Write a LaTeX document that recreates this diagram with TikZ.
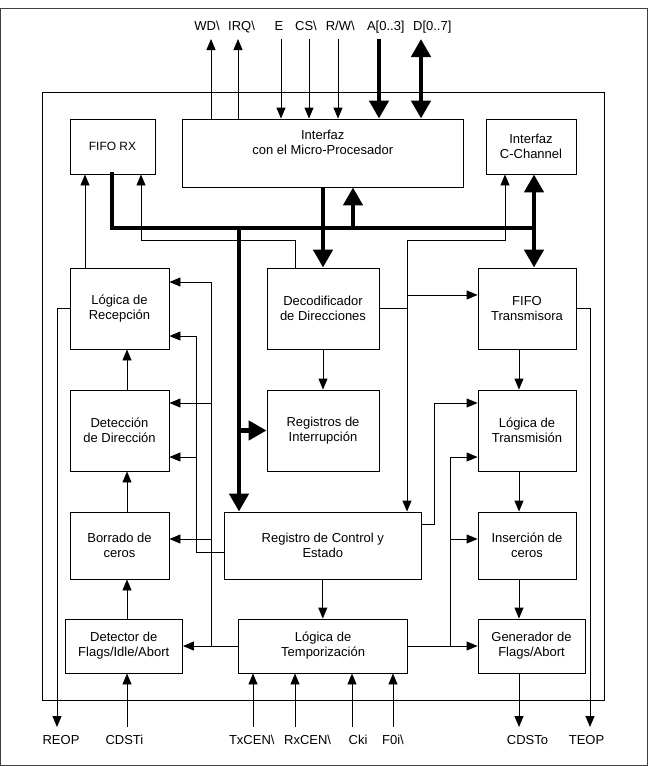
\documentclass[tikz,border=0pt]{standalone}
\usepackage{fontspec}
\setmainfont{Liberation Sans}
\usetikzlibrary{arrows.meta,positioning,calc}

\begin{document}
\begin{tikzpicture}[x=1pt,y=-1pt,>={Triangle[length=11pt,width=9pt]},
  every node/.style={font=\fontsize{13}{15}\selectfont},
  blk/.style={draw,line width=0.9pt,align=center,inner sep=0pt},
  sig/.style={anchor=base,inner sep=0pt},
  wire/.style={line width=0.9pt},
  bus/.style={line width=4.5pt,line cap=rect},
  busarrow/.style={line width=4.5pt,-{Triangle[length=18pt,width=19pt]}},
  busboth/.style={line width=4.5pt,{Triangle[length=18pt,width=19pt]}-{Triangle[length=18pt,width=19pt]}}]
\useasboundingbox (0,0) rectangle (648,766);
\draw[line width=1.1pt,black!75] (0.6,8.5) rectangle (647.4,765.4);
\draw[line width=0.9pt] (42.6,92.7) rectangle (604,700.7);

% blocks
\node[blk,minimum width=85pt,minimum height=55pt,font=\fontsize{12}{14}\selectfont] (fiforx) at (112.5,146.5) {FIFO RX};
\node[blk,minimum width=280.5pt,minimum height=68pt] (iface) at (322.75,153) {};
\node[align=center,inner sep=0pt] (ifacetxt) at ($(iface.north)+(0,23.5)$) {Interfaz\\con el Micro-Procesador};
\node[blk,minimum width=90pt,minimum height=55pt] (cchan) at (531,146.5) {Interfaz\\C-Channel};
\node[blk,minimum width=99pt,minimum height=81pt] (logrec) at (119.5,308.5) {Lógica de\\Recepción};
\node[blk,minimum width=112pt,minimum height=81pt] (decod) at (323,308.5) {Decodificador\\de Direcciones};
\node[blk,minimum width=98pt,minimum height=81pt] (fifotx) at (527,308.5) {FIFO\\Transmisora};
\node[blk,minimum width=99pt,minimum height=81pt] (detdir) at (119.5,430.5) {Detección\\de Dirección};
\node[blk,minimum width=112pt,minimum height=81pt] (regint) at (323,430.5) {Registros de\\Interrupción};
\node[blk,minimum width=98pt,minimum height=81pt] (logtx) at (527,430.5) {Lógica de\\Transmisión};
\node[blk,minimum width=99pt,minimum height=67pt] (borr) at (119.5,545.5) {Borrado de\\ceros};
\node[blk,minimum width=196.4pt,minimum height=67pt] (regctl) at (322.8,545.5) {Registro de Control y\\Estado};
\node[blk,minimum width=98pt,minimum height=67pt] (insc) at (527,545.5) {Inserción de\\ceros};
\node[blk,minimum width=117.5pt,minimum height=54pt] (detflag) at (123.75,646) {Detector de\\Flags/Idle/Abort};
\node[blk,minimum width=168.8pt,minimum height=54pt] (logtemp) at (323.1,646) {Lógica de\\Temporización};
\node[blk,minimum width=107pt,minimum height=54pt] (genflag) at (531.5,646) {Generador de\\Flags/Abort};

% pins
\coordinate (wdp) at (211,39);
\coordinate (irqp) at (238,39);
\coordinate (ep) at (281,39);
\coordinate (csp) at (309,39);
\coordinate (rwp) at (338,39);
\coordinate (ap) at (379,39);
\coordinate (dp) at (421,39);
\coordinate (reop) at (57,727);
\coordinate (cdsti) at (127,727);
\coordinate (txcen) at (253,727);
\coordinate (rxcen) at (295,727);
\coordinate (cki) at (352,727);
\coordinate (f0i) at (393,727);
\coordinate (cdsto) at (519,727);
\coordinate (teop) at (590,727);

\node[sig] (lwd) at (207,30.7) {WD\textbackslash};
\node[sig] (lirq) at (241.6,30.7) {IRQ\textbackslash};
\node[sig] (le) at (279,30.7) {E};
\node[sig] (lcs) at (306,30.7) {CS\textbackslash};
\node[sig] (lrw) at (340.3,30.7) {R/W\textbackslash};
\node[sig] (la) at (385.8,30.7) {A[0..3]};
\node[sig] (ld) at (432.3,30.7) {D[0..7]};
\node[sig] (lreop) at (61,744.6) {REOP};
\node[sig] (lcdsti) at (124.4,744.6) {CDSTi};
\node[sig] (ltxcen) at (251.8,744.6) {TxCEN\textbackslash};
\node[sig] (lrxcen) at (307.6,744.6) {RxCEN\textbackslash};
\node[sig] (lcki) at (358,744.6) {Cki};
\node[sig] (lf0i) at (393,744.6) {F0i\textbackslash};
\node[sig] (lcdsto) at (527.5,744.6) {CDSTo};
\node[sig] (lteop) at (586.5,744.6) {TEOP};

% junctions
\coordinate (busL) at (112,228);
\coordinate (busR) at (534,228);
\coordinate (busD) at (239,228);
\coordinate (busU) at (353,228);
\coordinate (retL) at (141,240);
\coordinate (retR) at (295,240);
\coordinate (rxup) at (85,250);
\coordinate (ctlT) at (407,240);
\coordinate (ctlC) at (505,240);
\coordinate (txin) at (407,295);
\coordinate (tmL) at (211,282);
\coordinate (ctL) at (196.5,336);
\coordinate (ctR) at (434.5,403);
\coordinate (tmR) at (450,457);

% microprocessor side
\draw[wire,->] (iface.north -| wdp) -- (wdp);
\draw[wire,->] (iface.north -| irqp) -- (irqp);
\draw[wire,->] (ep) -- (iface.north -| ep);
\draw[wire,->] (csp) -- (iface.north -| csp);
\draw[wire,->] (rwp) -- (iface.north -| rwp);
\draw[busarrow] (ap) -- (iface.north -| ap);
\draw[busboth] (dp) -- (iface.north -| dp);

% internal bus
\draw[bus] (fiforx.south -| busL) -- (busL) -- (busR);
\draw[busboth] (cchan.south -| busR) -- (fifotx.north -| busR);
\draw[busarrow] (busU) -- (iface.south -| busU);
\draw[busarrow] (iface.south -| decod.north) -- (decod.north);
\draw[busarrow] (busD) -- (regctl.north -| busD);
\draw[busarrow] (regint.west -| busD) -- (regint.west);

% address decoder outputs
\draw[wire,->] (decod.north -| retR) -- (retR) -- (retL) -- (fiforx.south -| retL);
\draw[wire] (decod.east) -- (decod.east -| ctlT);
\draw[wire,->] (ctlT) -- (regctl.north -| ctlT);
\draw[wire,->] (ctlT) -- (ctlC) -- (cchan.south -| ctlC);
\draw[wire,->] (txin) -- (fifotx.west |- txin);

% receive chain
\draw[wire,->] (logrec.north -| rxup) -- (fiforx.south -| rxup);
\draw[wire,->] ([xshift=7.5pt]detdir.north) -- ([xshift=7.5pt]logrec.south);
\draw[wire,->] ([xshift=7.5pt]borr.north) -- ([xshift=7.5pt]detdir.south);
\draw[wire,->] (detflag.north -| cdsti) -- (borr.south -| cdsti);
\draw[wire,->] (cdsti) -- (detflag.south -| cdsti);
\draw[wire,->] (logrec.west) -- (logrec.west -| reop) -- (reop);

% transmit chain
\draw[wire,->] (fifotx.south -| cdsto) -- (logtx.north -| cdsto);
\draw[wire,->] (logtx.south -| cdsto) -- (insc.north -| cdsto);
\draw[wire,->] (insc.south -| cdsto) -- (genflag.north -| cdsto);
\draw[wire,->] (genflag.south -| cdsto) -- (cdsto);
\draw[wire,->] (fifotx.east) -- (fifotx.east -| teop) -- (teop);

% centre column
\draw[wire,->] (decod.south) -- (regint.north);
\draw[wire,->] (regctl.south) -- (regctl.south |- logtemp.north);

% timing and control to the left
\draw[wire,->] (logtemp.west) -- (detflag.east);
\draw[wire] (logtemp.west -| tmL) -- (tmL);
\draw[wire,->] (tmL) -- (logrec.east |- tmL);
\draw[wire,->] ([yshift=27.5pt]detdir.east -| tmL) -- ([yshift=27.5pt]detdir.east);
\draw[wire,->] ([yshift=6.5pt]borr.east -| tmL) -- ([yshift=6.5pt]borr.east);
\draw[wire] ([yshift=-6.5pt]regctl.west) -- ([yshift=-6.5pt]regctl.west -| ctL) -- (ctL);
\draw[wire,->] (ctL) -- (logrec.east |- ctL);
\draw[wire,->] ([yshift=-26.5pt]detdir.east -| ctL) -- ([yshift=-26.5pt]detdir.east);

% timing and control to the right
\draw[wire,->] ([yshift=21.5pt]regctl.east) -- ([yshift=21.5pt]regctl.east -| ctR) -- (ctR) -- (logtx.west |- ctR);
\draw[wire,->] (logtemp.east) -- (genflag.west);
\draw[wire,->] (logtemp.east -| tmR) -- (tmR) -- (logtx.west |- tmR);
\draw[wire,->] ([yshift=6.5pt]insc.west -| tmR) -- ([yshift=6.5pt]insc.west);

% timing inputs
\draw[wire,->] (txcen) -- (logtemp.south -| txcen);
\draw[wire,->] (rxcen) -- (logtemp.south -| rxcen);
\draw[wire,->] (cki) -- (logtemp.south -| cki);
\draw[wire,->] (f0i) -- (logtemp.south -| f0i);
\end{tikzpicture}
\end{document}
